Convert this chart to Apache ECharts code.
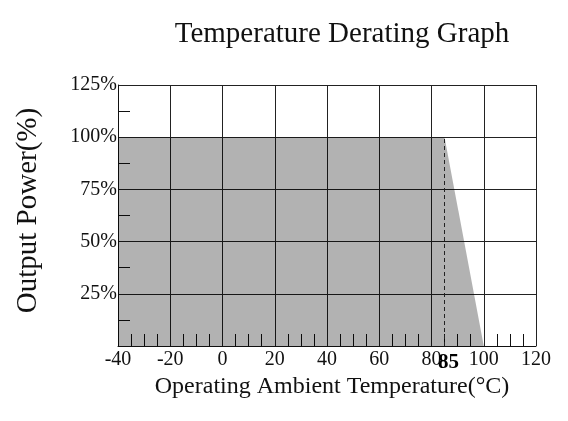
<!DOCTYPE html>
<html>
<head>
<meta charset="utf-8">
<script src="https://cdn.jsdelivr.net/npm/echarts@6/dist/echarts.min.js"></script>
<style>
  html, body { margin: 0; padding: 0; background: #fff; }
  #chart { width: 568px; height: 421px; }
</style>
</head>
<body>
<div id="chart"></div>
<script>
// derating curve: temperature (°C) vs output power (%)
const temps = [-40, 85, 100];
const power = [100, 100, 0];
const derateStart = 85;

const xTicks = [-40, -20, 0, 20, 40, 60, 80, 100, 120];
const yTicks = [0, 25, 50, 75, 100, 125];

const font = 'Liberation Serif';

const chart = echarts.init(document.getElementById('chart'));

const option = {
  animation: false,
  backgroundColor: '#fff',
  title: {
    text: 'Temperature Derating Graph',
    left: 337,
    top: 15,
    textAlign: 'center',
    textStyle: { fontFamily: font, fontWeight: 'normal', fontSize: 29, color: '#111' }
  },
  grid: { left: 118, right: 32, top: 85, bottom: 75 },
  xAxis: {
    type: 'value',
    min: xTicks[0],
    max: xTicks[xTicks.length - 1],
    interval: 20,
    name: 'Operating Ambient Temperature(°C)',
    nameLocation: 'middle',
    nameGap: 27,
    nameTextStyle: { fontFamily: font, fontSize: 24, color: '#111', padding: [0, 0, 0, 10] },
    axisLine: { onZero: false, lineStyle: { color: '#111', width: 1 } },
    axisTick: { show: false, inside: true },
    minorTick: { show: true, splitNumber: 4, length: 12, lineStyle: { color: '#111', width: 1 } },
    axisLabel: { fontFamily: font, fontSize: 20, color: '#111', margin: 4 },
    splitLine: { show: true, lineStyle: { color: '#222', width: 1 } }
  },
  yAxis: {
    type: 'value',
    min: yTicks[0],
    max: yTicks[yTicks.length - 1],
    interval: 25,
    name: 'Output Power(%)',
    nameLocation: 'middle',
    nameGap: 75,
    nameTextStyle: { fontFamily: font, fontSize: 29, color: '#111', padding: [0, 0, 0, 10] },
    axisLine: { show: true, onZero: false, lineStyle: { color: '#111', width: 1 } },
    axisTick: { show: false, inside: true },
    minorTick: { show: true, splitNumber: 2, length: 12, lineStyle: { color: '#111', width: 1 } },
    axisLabel: {
      fontFamily: font, fontSize: 20, color: '#111', margin: 1,
      verticalAlign: 'middle',
      formatter: v => (v === 0 ? '' : v + '%')
    },
    splitLine: { show: true, lineStyle: { color: '#222', width: 1 } }
  },
  series: [{
    type: 'line',
    data: temps.map((t, i) => [t, power[i]]),
    symbol: 'none',
    lineStyle: { width: 0 },
    areaStyle: { color: 'rgba(0,0,0,0.3)', opacity: 1 },
    markLine: {
      symbol: 'none',
      silent: true,
      lineStyle: { type: [4, 3], color: '#222', width: 1 },
      label: {
        show: true,
        position: 'start',
        distance: 6,
        offset: [4, 0],
        formatter: String(derateStart),
        fontFamily: font, fontSize: 21, fontWeight: 'bold', color: '#000'
      },
      data: [[{ coord: [derateStart, 0] }, { coord: [derateStart, 100] }]]
    }
  }]
};

chart.setOption(option);
</script>
</body>
</html>
